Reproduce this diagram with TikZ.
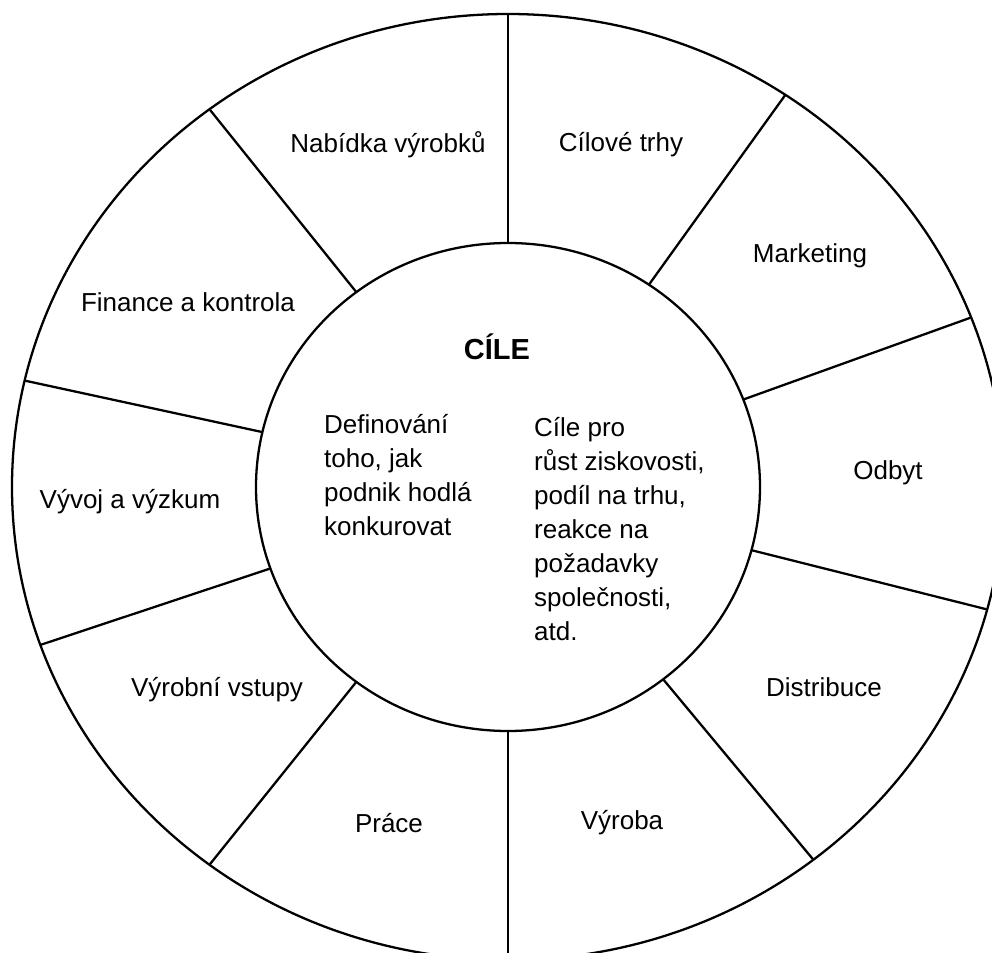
\documentclass[tikz,border=0pt]{standalone}
\usepackage{fontspec}
\setmainfont{Liberation Sans}
\usetikzlibrary{calc}
\tikzset{seg/.style={inner sep=0pt, font=\fontsize{14.8}{19.4}\selectfont},
         goal/.style={seg, align=left, anchor=north west}}

\begin{document}
\begin{tikzpicture}[x=0.02cm, y=0.02cm, line width=1.3pt]
    \useasboundingbox (0,0) rectangle (992,-953);
    \clip (0,0) rectangle (992,-953);
    \coordinate (c) at (508,-487);
    \draw (c) ellipse [x radius=496, y radius=473];
    \draw (c) ellipse [x radius=252, y radius=244];
    \foreach \a[count=\n] in {90,56,21,-15,-52,-90,-127,-160.5,167,127}{
        \coordinate (in\n) at ($(c)+(\a:252 and 244)$);
        \coordinate (out\n) at ($(c)+(\a:496 and 473)$);
        \draw (in\n) -- (out\n);
    }
    \node[seg] (nabidka) at (388,-145) {Nabídka výrobků};
    \node[seg] (trhy) at (621,-145) {Cílové trhy};
    \node[seg] (marketing) at (810,-256) {Marketing};
    \node[seg] (odbyt) at (888,-473) {Odbyt};
    \node[seg] (distribuce) at (824,-687) {Distribuce};
    \node[seg] (vyroba) at (622,-823) {Výroba};
    \node[seg] (prace) at (389,-823) {Práce};
    \node[seg] (vstupy) at (217,-690) {Výrobní vstupy};
    \node[seg] (vyzkum) at (130,-502) {Vývoj a výzkum};
    \node[seg] (finance) at (188,-302) {Finance a kontrola};
    \node[inner sep=0pt, font=\bfseries\fontsize{16.5}{20}\selectfont] (cile) at (497,-347) {CÍLE};
    \node[goal] (jak) at (323,-413) {Definování\\toho, jak\\podnik hodlá\\konkurovat};
    \node[goal] (pro) at (533,-416) {Cíle pro\\růst ziskovosti,\\podíl na trhu,\\reakce na\\požadavky\\společnosti,\\atd.};
\end{tikzpicture}
\end{document}
